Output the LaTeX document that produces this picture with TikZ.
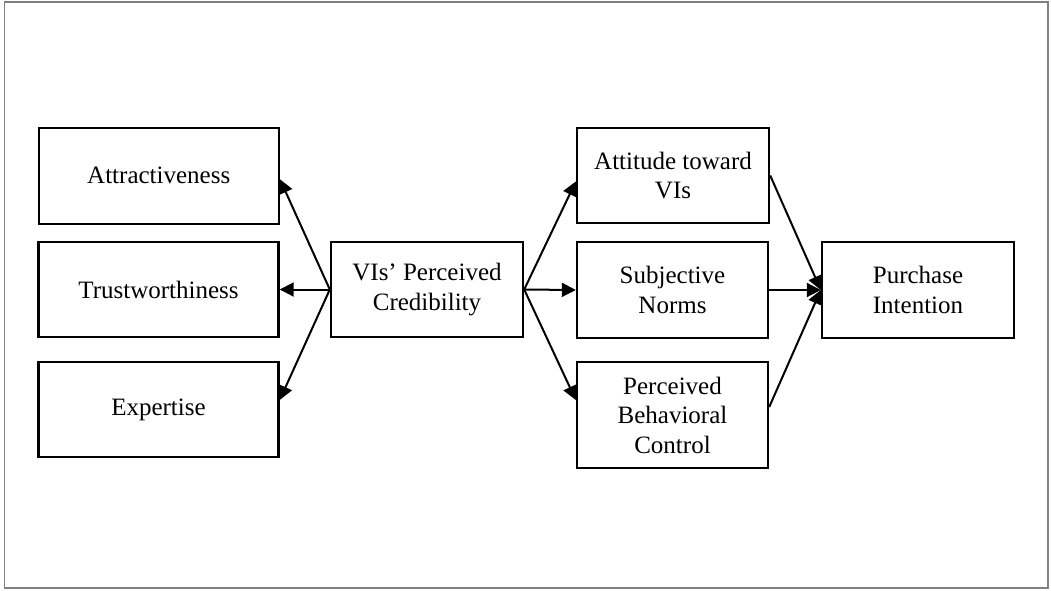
\documentclass[tikz,border=0pt]{standalone}
\usepackage{fontspec}
\setmainfont{Liberation Serif}
\usetikzlibrary{arrows.meta}
\begin{document}
\begin{tikzpicture}[x=1pt,y=-1pt,
  box/.style={draw=black,line width=2.4pt,minimum width=#1,inner sep=0pt,align=center,
    font=\fontsize{25}{29.5}\selectfont},
  arr/.style={line width=2pt,-{Triangle[length=14pt,width=14pt]}}]
\useasboundingbox (0,0) rectangle (1051,590);
\draw[black!50,line width=1.6pt] (4.5,2) rectangle (1048,588);
\node[box=240pt,minimum height=96pt] (att) at (158.75,175.75) {Attractiveness};
\node[box=240pt,minimum height=95pt] (tru) at (158.5,289.5) {Trustworthiness};
\node[box=240pt,minimum height=95pt] (exp) at (158.5,409.5) {Expertise};
\node[box=192pt,minimum height=95pt] (cred) at (427,289.5) {VIs’ Perceived\\Credibility};
\node[box=192pt,minimum height=95pt] (atv) at (673,175.5) {Attitude toward\\VIs};
\node[box=191pt,minimum height=96pt] (sn) at (672.5,290) {Subjective\\Norms};
\node[box=191pt,minimum height=106pt] (pbc) at (672.5,415) {Perceived\\Behavioral\\Control};
\node[box=192pt,minimum height=96pt] (pi) at (918,290) {Purchase\\Intention};
\draw[arr] (cred.west) -- ([yshift=-3.5pt]att.east);
\draw[arr] (cred.west) -- (tru.east);
\draw[arr] (cred.west) -- ([yshift=9.5pt]exp.east);
\draw[arr] (cred.east) -- ([yshift=-6pt]atv.west);
\draw[arr] (cred.east) -- (sn.west);
\draw[arr] (cred.east) -- ([yshift=15pt]pbc.west);
\draw[arr] (atv.east) -- (pi.west);
\draw[arr] (sn.east) -- (pi.west);
\draw[arr] ([yshift=8pt]pbc.east) -- (pi.west);
\end{tikzpicture}
\end{document}
